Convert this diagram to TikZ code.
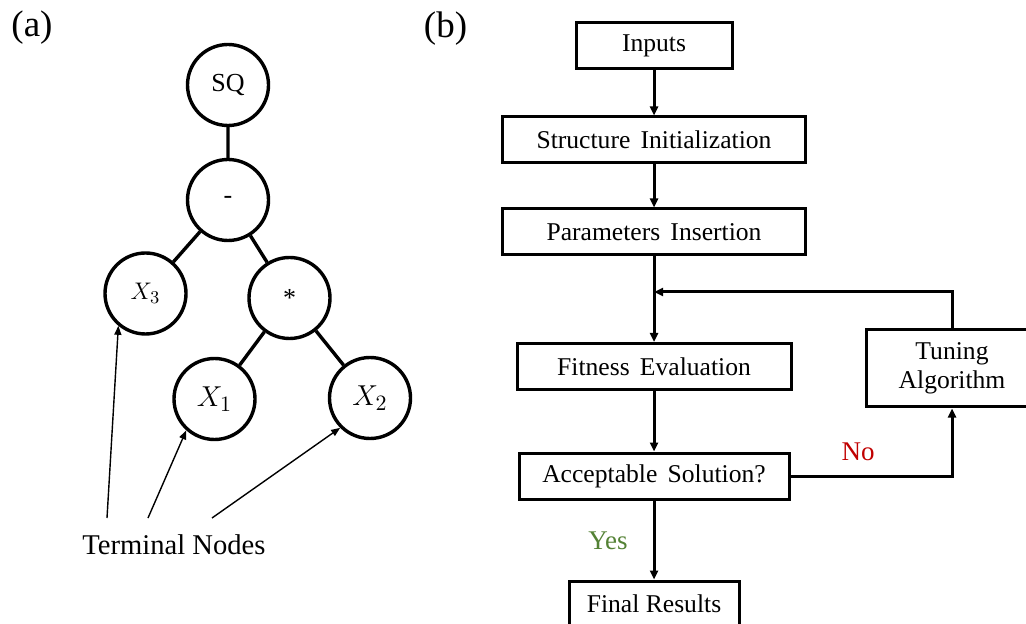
\documentclass[tikz,border=0pt]{standalone}
\usepackage{fontspec}
\setmainfont{Liberation Serif}
\usetikzlibrary{arrows.meta}
\definecolor{nored}{RGB}{192,0,0}
\definecolor{yesgreen}{RGB}{84,130,53}
\newcommand\boxfont{\fontsize{12.8}{15}\selectfont\spaceskip=0.4em\relax}

\begin{document}
\begin{tikzpicture}[x=0.5pt,y=-0.5pt,
	op/.style={circle,draw,line width=1.7pt,minimum size=40.5pt,inner sep=0pt,font=\fontsize{13}{15}\selectfont},
	blk/.style={draw,line width=1.5pt,minimum height=23pt,inner sep=0pt,font=\boxfont},
	flow/.style={line width=1.5pt,-{Triangle[length=4.5pt,width=4pt]}},
	pointer/.style={line width=0.7pt,-{Triangle[length=4.5pt,width=3.5pt]}}]
	\useasboundingbox (0,0) rectangle (1026,624);
	% (a) expression tree
	\node[font=\fontsize{18.5}{22}\selectfont] (a) at (32,28) {(a)};
	\node[op] (SQ) at (228,85) {SQ};
	\node[op] (M) at (228,200) {-};
	\node[op] (X3) at (145.5,293.5) {$X_3$};
	\node[op] (T) at (289.5,298) {*};
	\node[op,font=\fontsize{15}{18}\selectfont] (X1) at (214.5,399) {$X_1$};
	\node[op,font=\fontsize{15}{18}\selectfont] (X2) at (370,398) {$X_2$};
	\draw[line width=1.7pt] (SQ) -- (M) (M) -- (X3) (M) -- (T) (T) -- (X1) (T) -- (X2);
	\node[font=\fontsize{14.3}{17}\selectfont] (TN) at (174,545) {Terminal Nodes};
	\path
	(107,518) coordinate (p3)
	(148,518) coordinate (p1)
	(212,518) coordinate (p2);
	\draw[pointer] (p3) -- (X3.230);
	\draw[pointer] (p1) -- (X1.228);
	\draw[pointer] (p2) -- (X2.225);
	% (b) flowchart
	\node[font=\fontsize{18.5}{22}\selectfont] (b) at (445.5,29) {(b)};
	\node[blk,minimum width=78pt] (In) at (654,46) {Inputs};
	\node[blk,minimum width=151.5pt] (SI) at (654,140) {Structure Initialization};
	\node[blk,minimum width=151.5pt] (PI) at (654,232) {Parameters Insertion};
	\node[blk,minimum width=137pt] (FE) at (654,366.5) {Fitness Evaluation};
	\node[blk,minimum width=135pt] (AS) at (654,476) {Acceptable Solution?};
	\node[blk,minimum width=85pt,font=\fontsize{12.8}{15}\selectfont] (FR) at (654,604) {Final Results};
	\node[blk,minimum width=86pt,minimum height=38.5pt,align=center,font=\fontsize{12.8}{14.5}\selectfont] (TA) at (952,368.5) {Tuning\\Algorithm};
	\coordinate (J) at (654,292);
	\draw[flow] (In) -- (SI);
	\draw[flow] (SI) -- (PI);
	\draw[flow] (PI) -- (FE);
	\draw[flow] (TA.north) |- (J);
	\draw[flow] (FE) -- (AS);
	\draw[flow] (AS) -- (FR);
	\draw[flow] (AS.east) -| (TA.south);
	\node[text=nored,font=\fontsize{13.5}{16}\selectfont] (no) at (858,452) {No};
	\node[text=yesgreen,font=\fontsize{13.5}{16}\selectfont] (yes) at (608,541) {Yes};
\end{tikzpicture}
\end{document}
